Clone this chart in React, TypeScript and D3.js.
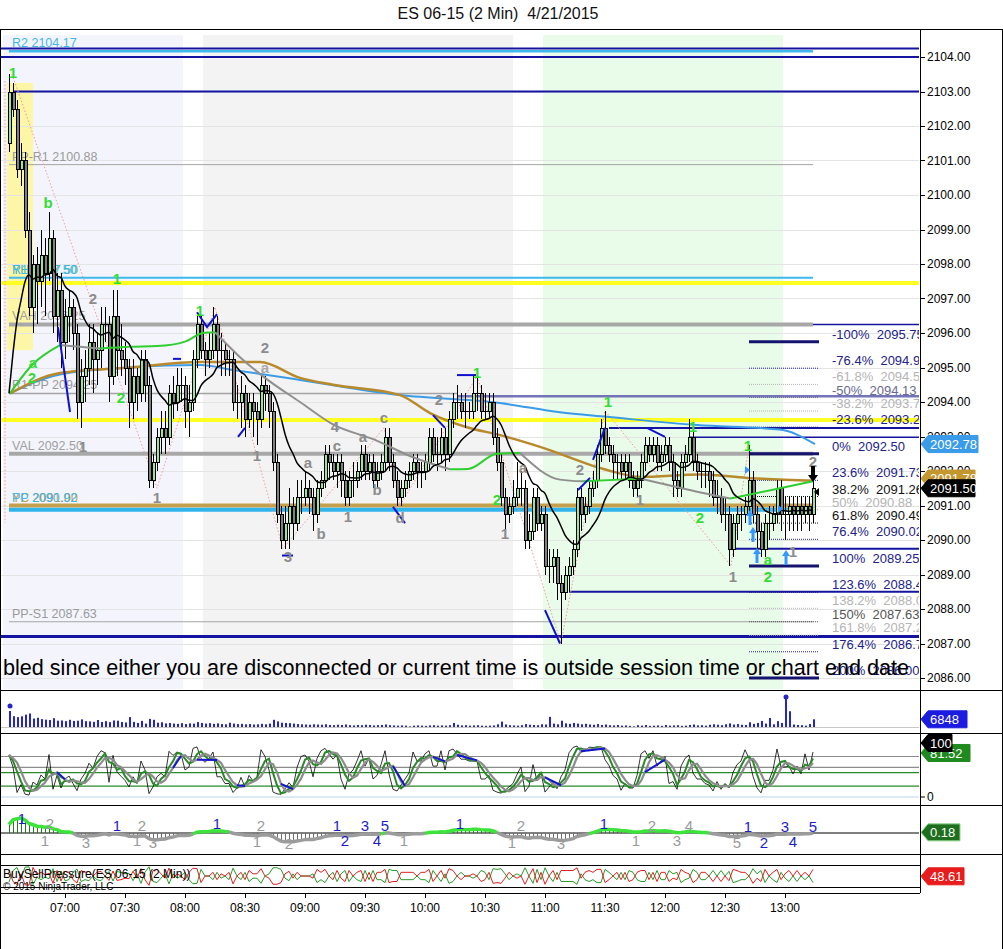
import React from 'react';
import * as d3 from 'd3';

const FONT = 'Arial, "Liberation Sans", Helvetica, sans-serif';
const NAVY = '#1414a0';
const CYAN = '#3fb8ec';
const LEVEL_GRAY = '#a4a4a4';
const UP_FILL = '#98e698';
const DOWN_FILL = '#808080';

// ---- price bars (2 min, first bar closes 06:32) ----
const sessionStart = 392; // minutes after midnight
const barMinutes = 2;
const firstOpen = 2101.5;
const priorValue = 2094.25; // where the carried-over averages start

const closes = [
  2103.00, 2102.50, 2100.75, 2101.00, 2099.00, 2096.75, 2098.00, 2097.50, 2098.25, 2097.75,
  2098.75, 2096.50, 2097.25, 2095.75, 2096.50, 2096.75, 2096.00, 2094.00, 2094.75, 2095.00,
  2095.75, 2095.25, 2095.50, 2096.25, 2096.25, 2094.75, 2096.50, 2095.50, 2095.25, 2095.00,
  2094.00, 2094.75, 2094.25, 2095.25, 2094.50, 2091.75, 2092.25, 2093.00, 2093.25, 2093.00,
  2094.25, 2094.00, 2094.50, 2094.50, 2093.75, 2094.00, 2095.25, 2096.25, 2095.50, 2095.25,
  2095.50, 2096.25, 2095.50, 2095.50, 2095.25, 2095.25, 2094.00, 2094.00, 2094.25, 2093.50,
  2094.00, 2093.75, 2093.50, 2094.50, 2094.25, 2093.75, 2092.25, 2090.75, 2090.00, 2090.50,
  2091.00, 2090.50, 2091.25, 2091.25, 2091.50, 2091.25, 2090.75, 2091.50, 2091.75, 2092.50,
  2092.25, 2092.00, 2092.25, 2091.75, 2091.25, 2091.75, 2091.75, 2092.00, 2092.50, 2092.00,
  2092.25, 2091.75, 2092.00, 2092.25, 2093.00, 2092.25, 2091.75, 2091.25, 2091.50, 2091.75,
  2092.00, 2092.25, 2092.00, 2092.00, 2092.25, 2093.00, 2092.50, 2092.50, 2093.00, 2092.50,
  2093.50, 2094.00, 2094.00, 2093.75, 2093.75, 2093.75, 2094.25, 2094.25, 2093.75, 2093.75,
  2094.00, 2093.00, 2092.25, 2091.25, 2090.75, 2091.00, 2091.25, 2091.50, 2091.50, 2090.00,
  2090.25, 2091.25, 2090.50, 2090.75, 2089.25, 2089.25, 2089.50, 2088.75, 2088.50, 2089.00,
  2089.25, 2089.75, 2091.25, 2090.75, 2091.00, 2091.50, 2091.75, 2092.50, 2093.25, 2092.75,
  2092.50, 2092.25, 2092.25, 2092.00, 2092.25, 2091.75, 2091.50, 2091.75, 2092.25, 2092.75,
  2092.50, 2092.75, 2092.25, 2092.50, 2092.75, 2092.25, 2091.75, 2091.50, 2092.25, 2092.50,
  2093.00, 2092.25, 2092.00, 2092.00, 2092.00, 2091.75, 2091.25, 2091.25, 2090.75, 2090.75,
  2089.75, 2090.50, 2090.75, 2090.75, 2091.00, 2091.75, 2090.75, 2090.25, 2089.75, 2090.50,
  2090.50, 2090.75, 2091.50, 2090.75, 2090.75, 2091.00, 2090.75, 2091.00, 2090.75, 2091.00,
  2090.75, 2091.50,
];

const highs = [
  2103.50, 2103.25, 2102.75, 2101.50, 2101.25, 2099.50, 2098.25, 2098.50, 2099.00, 2098.75,
  2099.50, 2099.00, 2097.75, 2097.75, 2097.00, 2097.25, 2097.00, 2096.25, 2095.25, 2095.50,
  2096.25, 2096.25, 2096.00, 2096.75, 2096.75, 2096.50, 2097.25, 2097.25, 2096.25, 2095.75,
  2095.25, 2095.25, 2095.00, 2095.50, 2095.50, 2094.75, 2092.50, 2093.25, 2093.75, 2093.75,
  2094.50, 2094.75, 2095.00, 2095.00, 2094.75, 2094.50, 2095.50, 2096.50, 2096.50, 2095.75,
  2096.00, 2096.75, 2096.50, 2096.00, 2095.75, 2095.50, 2095.50, 2094.50, 2094.75, 2094.50,
  2094.25, 2094.25, 2094.00, 2094.75, 2094.75, 2094.50, 2094.00, 2092.50, 2091.00, 2091.00,
  2091.50, 2091.25, 2091.75, 2091.75, 2092.00, 2091.75, 2091.50, 2091.75, 2092.00, 2092.75,
  2092.75, 2092.50, 2092.50, 2092.50, 2092.00, 2092.00, 2092.25, 2092.25, 2092.75, 2092.75,
  2092.50, 2092.50, 2092.25, 2092.50, 2093.25, 2093.25, 2092.50, 2092.00, 2091.75, 2092.00,
  2092.25, 2092.50, 2092.50, 2092.25, 2092.50, 2093.25, 2093.25, 2093.00, 2093.25, 2093.25,
  2093.75, 2094.25, 2094.50, 2094.25, 2094.25, 2094.00, 2094.75, 2094.75, 2094.50, 2094.25,
  2094.25, 2094.25, 2093.25, 2092.50, 2091.50, 2091.25, 2091.75, 2092.25, 2092.00, 2091.75,
  2090.75, 2091.50, 2091.50, 2091.00, 2091.00, 2089.75, 2089.75, 2089.75, 2089.00, 2089.25,
  2089.50, 2090.00, 2091.50, 2091.50, 2091.25, 2091.75, 2092.00, 2092.75, 2093.50, 2093.75,
  2093.00, 2092.75, 2092.50, 2092.50, 2092.50, 2092.50, 2092.00, 2092.00, 2092.50, 2093.00,
  2093.00, 2093.00, 2093.00, 2092.75, 2093.00, 2093.00, 2092.50, 2092.00, 2092.50, 2092.75,
  2093.50, 2093.25, 2092.50, 2092.25, 2092.25, 2092.25, 2092.00, 2091.75, 2091.50, 2091.25,
  2091.00, 2090.75, 2091.00, 2091.00, 2091.25, 2092.75, 2092.00, 2091.00, 2090.50, 2090.75,
  2091.00, 2091.00, 2091.75, 2091.75, 2091.25, 2091.25, 2091.25, 2091.25, 2091.25, 2091.25,
  2091.25, 2091.75,
];

const lows = [
  2101.25, 2102.25, 2100.50, 2100.25, 2098.75, 2096.50, 2096.00, 2096.25, 2096.75, 2096.50,
  2097.50, 2096.00, 2095.75, 2095.00, 2095.25, 2095.75, 2095.50, 2093.50, 2093.25, 2094.00,
  2094.50, 2094.25, 2094.50, 2095.00, 2095.75, 2094.00, 2094.50, 2094.75, 2094.75, 2094.50,
  2093.25, 2093.50, 2093.75, 2094.00, 2094.00, 2091.50, 2091.50, 2092.00, 2092.50, 2092.50,
  2092.75, 2093.50, 2093.75, 2094.00, 2093.25, 2093.00, 2093.75, 2095.00, 2095.25, 2094.75,
  2095.00, 2095.25, 2095.00, 2094.75, 2094.75, 2094.75, 2093.75, 2093.50, 2093.25, 2093.00,
  2093.25, 2093.00, 2092.75, 2093.25, 2093.75, 2093.25, 2092.00, 2090.50, 2089.75, 2089.75,
  2089.75, 2090.00, 2090.25, 2090.75, 2091.00, 2090.75, 2090.25, 2090.50, 2091.25, 2091.50,
  2091.75, 2091.75, 2091.50, 2091.25, 2091.00, 2091.00, 2091.25, 2091.50, 2091.75, 2091.75,
  2091.75, 2091.50, 2091.50, 2091.75, 2092.00, 2092.00, 2091.50, 2091.00, 2091.00, 2091.25,
  2091.50, 2091.75, 2091.50, 2091.50, 2091.75, 2092.00, 2092.25, 2092.00, 2092.25, 2092.00,
  2092.25, 2093.25, 2093.50, 2093.50, 2093.25, 2093.50, 2093.50, 2093.75, 2093.50, 2093.50,
  2093.50, 2092.75, 2092.00, 2091.00, 2090.25, 2090.50, 2090.75, 2091.00, 2091.00, 2089.75,
  2089.75, 2090.00, 2090.25, 2090.25, 2089.00, 2088.75, 2088.75, 2088.25, 2087.00, 2088.25,
  2088.50, 2089.00, 2089.50, 2090.25, 2090.50, 2090.75, 2091.25, 2091.50, 2092.25, 2092.50,
  2092.25, 2091.75, 2091.75, 2091.75, 2091.75, 2091.50, 2091.25, 2091.25, 2091.50, 2092.00,
  2092.25, 2092.25, 2092.00, 2092.00, 2092.25, 2092.00, 2091.25, 2091.25, 2091.25, 2092.00,
  2092.25, 2092.00, 2091.75, 2091.50, 2091.50, 2091.25, 2091.00, 2090.75, 2090.50, 2090.25,
  2089.25, 2089.50, 2090.00, 2090.25, 2090.50, 2090.75, 2090.50, 2089.75, 2089.50, 2089.50,
  2090.00, 2090.25, 2090.50, 2090.25, 2090.00, 2090.25, 2090.25, 2090.25, 2090.25, 2090.50,
  2090.25, 2090.50,
];

const volumes = [
  14200, 9600, 8800, 9500, 11000, 12000, 7500, 8200, 7000, 6500,
  6200, 7800, 5600, 5800, 5200, 6400, 5400, 5600, 6800, 5200,
  5000, 4600, 6200, 4400, 5200, 4300, 5800, 5600, 4400, 4000,
  8800, 4500, 3600, 5400, 3000, 7200, 6400, 3800, 4200, 3200,
  3600, 3000, 2800, 3400, 2600, 3200, 3000, 4400, 3600, 3000,
  3400, 2800, 3200, 2600, 2400, 3800, 3000, 2600, 2800, 2400,
  2600, 2200, 2400, 2800, 2400, 3000, 6400, 5000, 3800, 3600,
  3400, 3000, 2600, 2400, 2200, 2000, 2400, 2200, 2000, 2400,
  1800, 1600, 2000, 1800, 2200, 1600, 1400, 1800, 1600, 2000,
  1800, 1400, 1600, 1800, 2200, 1600, 1400, 1200, 1400, 1200,
  600, 1200, 1400, 1200, 1000, 1400, 1600, 1200, 1400, 1200,
  1600, 3600, 2000, 1400, 1600, 1200, 1400, 1600, 1200, 1000,
  1200, 1400, 2400, 4800, 2200, 1600, 1400, 1200, 1600, 2600,
  2000, 1800, 1600, 2400, 2200, 9000, 3000, 2400, 5600, 3200,
  2800, 3600, 3000, 2400, 2800, 2200, 2000, 2600, 1800, 2200,
  1600, 1400, 1800, 1200, 1400, 1000, 600, 1600, 1200, 1800,
  1000, 1200, 1400, 1000, 1800, 1200, 1400, 1600, 1000, 1200,
  1800, 2200, 1400, 1600, 1200, 2000, 2400, 2000, 1600, 2400,
  3200, 2200, 2600, 2000, 1800, 4200, 2800, 3600, 5400, 3000,
  8000, 2400, 5200, 3600, 27000, 14000, 2200, 1800, 1600, 1200,
  2600, 6848,
];

// averages: [bar index, price]
const trendMA = [
  [0.25, 2094.25], [6, 2095.1], [12.75, 2095.65], [17.75, 2095.6], [22.75, 2095.55],
  [30.25, 2095.6], [37, 2095.62], [44, 2095.75], [48.5, 2096.0], [51.5, 2096.02],
  [57.75, 2095.3], [64, 2094.7], [72.75, 2094.0], [81, 2093.35], [91.5, 2092.9],
  [101, 2092.4], [110.25, 2092.05], [114.75, 2092.06], [122, 2092.5], [127.75, 2092.52],
  [137.75, 2091.75], [143.5, 2091.7], [152.75, 2091.75], [157.75, 2091.78], [172, 2091.4],
  [180.25, 2091.2], [192.75, 2091.5], [201, 2091.7],
];
const goldMA = [
  [0.25, 2094.25], [12.75, 2094.84], [30.25, 2095.0], [47.75, 2095.16], [62.75, 2095.16],
  [72.75, 2094.7], [81, 2094.5], [97.75, 2094.2], [105.25, 2093.68], [114.5, 2093.27],
  [122.75, 2093.04], [132.75, 2092.7], [149.5, 2092.03], [157.75, 2091.83], [172.75, 2091.9],
  [184.5, 2091.8], [201, 2091.72],
];
const blueMA = [
  [0.25, 2094.25], [12.75, 2094.8], [30.25, 2095.0], [47.75, 2095.07], [56, 2094.93],
  [72.75, 2094.64], [97.75, 2094.2], [122.75, 2093.97], [137.75, 2093.7], [149.5, 2093.57],
  [172, 2093.33], [192.75, 2093.2], [201.5, 2092.78],
];

const sessionBands = [
  { from: '06:30', to: '08:00', fill: '#f4f5fc' },
  { from: '08:10', to: '10:45', fill: '#f3f3f3' },
  { from: '11:00', to: '13:00', fill: '#e9fbe9' },
];
const openingRange = { from: '06:31', to: '06:44', low: 2095.5, high: 2103.25 };

// horizontal levels; null = panel edge
const levelLines = [
  { price: 2104.25, color: NAVY, width: 2, from: null, to: null },
  { price: 2104.17, color: CYAN, width: 2.5, from: '06:32', to: '13:14' },
  { price: 2104.0, color: NAVY, width: 2, from: null, to: null },
  { price: 2103.0, color: NAVY, width: 2, from: '06:34', to: null },
  { price: 2100.88, color: LEVEL_GRAY, width: 1, from: '06:32', to: '13:14' },
  { price: 2097.6, color: CYAN, width: 2, from: '06:32', to: '13:14' },
  { price: 2097.45, color: '#ffff22', width: 4, from: null, to: null },
  { price: 2096.25, color: '#a8a8a8', width: 4, from: '06:32', to: '13:14' },
  { price: 2096.25, color: NAVY, width: 1.5, from: '13:14', to: null },
  { price: 2094.25, color: LEVEL_GRAY, width: 1.5, from: '06:32', to: '10:16' },
  { price: 2094.17, color: '#7474b8', width: 2.5, from: '10:16', to: null },
  { price: 2093.48, color: '#ffff22', width: 4, from: null, to: null },
  { price: 2093.25, color: NAVY, width: 2, from: '11:32', to: null },
  { price: 2092.98, color: NAVY, width: 1.5, from: '12:12', to: null },
  { price: 2092.5, color: '#a8a8a8', width: 4, from: '06:32', to: '13:14' },
  { price: 2091.0, color: '#c4a04c', width: 4, from: '06:32', to: '13:14' },
  { price: 2090.88, color: '#2fb4ec', width: 4, from: '06:32', to: '13:14' },
  { price: 2089.75, color: NAVY, width: 2, from: '12:35', to: null },
  { price: 2088.5, color: NAVY, width: 2, from: '11:12', to: null },
  { price: 2087.63, color: LEVEL_GRAY, width: 1, from: '06:32', to: '13:14' },
  { price: 2087.2, color: NAVY, width: 3, from: null, to: null },
];

const levelLabels = [
  { text: 'R2 2104.17', price: 2104.17, color: CYAN },
  { text: 'PP-R1 2100.88', price: 2100.88, color: '#9a9a9a' },
  { text: 'YH 2097.50', price: 2097.6, color: '#4fb3a6' },
  { text: 'R1 2097.50', price: 2097.6, color: CYAN },
  { text: 'VAH 2096.25', price: 2096.25, color: '#a0a0a0' },
  { text: 'R1-PP 2094.25', price: 2094.25, color: '#9a9a9a' },
  { text: 'VAL 2092.50', price: 2092.5, color: '#a0a0a0' },
  { text: 'YC 2091.00', price: 2091.0, color: '#c4a04c' },
  { text: 'PP 2090.92', price: 2091.0, color: CYAN },
  { text: 'PP-S1 2087.63', price: 2087.63, color: '#9a9a9a' },
];

// fibonacci tool, drawn between two bar indices
const fibRange = [185, 202.5];
const fibLevels = [
  ['-100%', 2095.75, 'navy', true], ['-76.4%', 2094.98, 'navy', false],
  ['-61.8%', 2094.51, 'light', false], ['-50%', 2094.13, 'mid', false],
  ['-38.2%', 2093.74, 'light', false], ['-23.6%', 2093.27, 'navy', false],
  ['0%', 2092.5, 'navy', true], ['23.6%', 2091.73, 'navy', false],
  ['38.2%', 2091.26, 'black', false], ['50%', 2090.88, 'light', false],
  ['61.8%', 2090.49, 'black', false], ['76.4%', 2090.02, 'navy', false],
  ['100%', 2089.25, 'navy', true], ['123.6%', 2088.48, 'navy', false],
  ['138.2%', 2088.02, 'light', false], ['150%', 2087.63, 'dark', false],
  ['161.8%', 2087.24, 'light', false], ['176.4%', 2086.76, 'navy', false],
  ['200%', 2086.0, 'navy', true],
];
const fibColors = { navy: '#22228a', light: '#b4b4b4', mid: '#6a6a90', black: '#111111', dark: '#555555' };

const zigzag = [
  [0.75, 2103.5], [37, 2091.5], [51.5, 2096.75], [68.5, 2089.75], [93.75, 2093.25],
  [97.75, 2091.0], [117, 2094.75], [138, 2087.0], [149, 2093.75], [180.5, 2089.25], [185, 2092.75],
];
const priorZig = [[-1, 2103.3], [-1, 2090.5]];

const swingMarks = [
  [[12.25, 2096.17], [15.25, 2093.71]],
  [[47, 2096.6], [49.5, 2096.17], [52, 2096.55]],
  [[41, 2095.25], [43, 2095.25]],
  [[57.25, 2092.99], [59, 2093.25]],
  [[68.25, 2089.55], [71, 2089.55]],
  [[96, 2090.96], [99, 2090.49]],
  [[106, 2093.62], [109, 2093.25]],
  [[112, 2094.78], [116.75, 2094.78]],
  [[134, 2087.97], [137.75, 2087.0]],
  [[142.25, 2091.45], [145.25, 2091.8]],
  [[146, 2092.32], [149, 2093.25]],
  [[159.5, 2093.25], [164, 2092.99]],
];

const GREEN_LBL = '#33dd33';
const GRAY_LBL = '#8c8c8c';
const waveLabels = [
  [1, 2103.54, '1', GREEN_LBL], [9.75, 2099.77, 'b', GREEN_LBL], [27, 2097.59, '1', GREEN_LBL],
  [6, 2095.13, 'a', GREEN_LBL], [5.75, 2094.7, '2', GREEN_LBL], [28, 2094.14, '2', GREEN_LBL],
  [47.75, 2096.64, '1', GREEN_LBL], [117, 2094.84, '1', GREEN_LBL], [122, 2091.16, '2', GREEN_LBL],
  [149.75, 2094.0, '1', GREEN_LBL], [171, 2093.28, '1', GREEN_LBL], [172.75, 2090.64, '2', GREEN_LBL],
  [184.75, 2092.75, '1', GREEN_LBL], [189.75, 2089.42, 'a', GREEN_LBL], [189.75, 2088.93, '2', GREEN_LBL],
  [21, 2097.01, '2', GRAY_LBL], [18.5, 2092.7, '1', GRAY_LBL], [37, 2091.22, '1', GRAY_LBL],
  [64, 2095.57, '2', GRAY_LBL], [64, 2095.01, 'a', '#a8a8a8'], [62, 2092.46, '1', GRAY_LBL],
  [74.75, 2092.23, 'a', GRAY_LBL], [81.5, 2093.28, '4', GRAY_LBL], [82, 2092.75, 'c', GRAY_LBL],
  [88.5, 2092.99, 'a', GRAY_LBL], [93.75, 2093.54, 'c', GRAY_LBL], [92, 2091.45, 'b', GRAY_LBL],
  [84.75, 2090.67, '1', GRAY_LBL], [78, 2090.2, 'b', GRAY_LBL], [69.75, 2089.51, '3', GRAY_LBL],
  [97.75, 2090.64, 'd', GRAY_LBL], [107.5, 2094.06, '2', GRAY_LBL], [124, 2090.2, '1', GRAY_LBL],
  [128.5, 2092.09, 'a', GRAY_LBL], [142.75, 2092.03, '2', GRAY_LBL], [157.75, 2091.16, '1', GRAY_LBL],
  [181, 2088.93, '1', GRAY_LBL], [201, 2092.26, '2', GRAY_LBL], [196, 2089.65, '1', GRAY_LBL],
];

const upArrows = [[185.25, 2090.87], [186, 2090.38], [187, 2089.77], [194.25, 2089.71]];
const smallTriangles = [[184.5, 2092.03], [192.75, 2090.9]];
const downArrow = [201, 2091.68];

const priceTags = [
  { value: 2092.78, text: '2092.78', bg: '#3a9ce8', w: 50 },
  { value: 2091.78, text: '2091.78', bg: '#c4962e', w: 47 },
  { value: 2091.5, text: '2091.50', bg: '#000000', w: 47 },
];

const timeLabels = ['07:00', '07:30', '08:00', '08:30', '09:00', '09:30', '10:00', '10:30', '11:00', '11:30', '12:00', '12:30', '13:00'];
const priceTicks = d3.range(2086, 2105, 1);

const oscLevels = [
  { v: 75, color: '#8c8c8c' }, { v: 55, color: '#8c8c8c' },
  { v: 45, color: '#2a8a2a' }, { v: 20, color: '#2a8a2a' }, { v: 0, color: '#bcd6ee' },
];
const oscSwingMarks = [[12, 14], [41, 43], [47, 52], [57, 59], [68, 71], [96, 99], [106, 109], [112, 117], [134, 138], [143, 149], [159, 164]];

const BLUE_W = '#1d1dc8';
const GRAY_W = '#9a9a9a';
const eoLabels = [
  [3.25, 5.0, '1', BLUE_W], [10.25, 3.3, '2', GRAY_W], [9, -2.4, '1', GRAY_W], [19.25, -3.1, '3', GRAY_W],
  [27, 2.6, '1', BLUE_W], [33.25, 2.6, '2', GRAY_W], [32, -2.6, '1', GRAY_W], [36, -3.3, '3', GRAY_W],
  [52, 3.1, '1', BLUE_W], [63, 2.6, '2', GRAY_W], [62, -2.9, '1', GRAY_W], [70, -3.6, '2', GRAY_W],
  [82, 2.4, '1', BLUE_W], [89, 2.4, '3', BLUE_W], [94, 2.6, '5', BLUE_W], [84, -2.6, '2', BLUE_W],
  [92, -2.4, '4', BLUE_W], [98.75, -2.6, '1', GRAY_W], [112.75, 3.1, '1', BLUE_W], [128, 2.6, '2', GRAY_W],
  [125.75, -3.1, '1', GRAY_W], [138, -3.6, '3', GRAY_W], [148.75, 3.3, '1', BLUE_W], [160.75, 2.6, '2', GRAY_W],
  [170, 2.4, '4', GRAY_W], [156.75, -2.4, '1', GRAY_W], [167, -2.6, '3', GRAY_W], [182, -3.3, '5', GRAY_W],
  [184.75, 2.1, '1', BLUE_W], [194, 2.1, '3', BLUE_W], [201, 2.1, '5', BLUE_W], [188.75, -3.1, '2', BLUE_W],
  [196, -2.9, '4', BLUE_W],
];

const panelTags = { volume: 6848, oscFast: 100, oscSlow: 81.52, eo: 0.18, bsp: 48.61 };

// ---- helpers ----
const toMin = (s: string) => { const [h, m] = s.split(':').map(Number); return h * 60 + m; };
const ema = (vals: number[], period: number, seed: number) => {
  const a = 2 / (period + 1);
  let prev = seed;
  return vals.map(v => (prev = prev + a * (v - prev)));
};
const sma = (vals: number[], n: number) =>
  vals.map((_, i) => d3.mean(vals.slice(Math.max(0, i - n + 1), i + 1)) as number);

const xTime = d3.scaleLinear().domain([420, 780]).range([65, 785]);
const barX = (i: number) => xTime(sessionStart + barMinutes * i);
const tX = (s: string | null, edge: number) => (s === null ? edge : xTime(toMin(s)));
const yPrice = d3.scaleLinear().domain([2086, 2104]).range([678, 57]);
const yVol = d3.scaleLinear().domain([0, 24000]).range([727, 700]);
const yOsc = d3.scaleLinear().domain([0, 100]).range([797, 743]);
const yEO = d3.scaleLinear().domain([-6, 6]).range([854, 812]);
const yBSP = d3.scaleLinear().domain([0, 100]).range([887, 865]);

const AXIS_X = 920;
const PLOT_R = 919;

function knotRuns(pts: number[][], upColor: string, downColor: string) {
  const runs: { color: string; pts: [number, number][] }[] = [];
  let cur: any = null;
  for (let k = 1; k < pts.length; k++) {
    const color = pts[k][1] >= pts[k - 1][1] ? upColor : downColor;
    if (!cur || cur.color !== color) {
      cur = { color, pts: [pts[k - 1]] };
      runs.push(cur);
    }
    cur.pts.push(pts[k]);
  }
  return runs;
}

function Tag({ y, text, bg, w, fg = '#fff', border }: any) {
  const h = 17, x0 = AXIS_X + 1, x1 = AXIS_X + 8;
  const pts = `${x0},${y} ${x1},${y - h / 2} ${x1 + w},${y - h / 2} ${x1 + w},${y + h / 2} ${x1},${y + h / 2}`;
  return (
    <g>
      <polygon points={pts} fill={bg} stroke={border || bg} />
      <text x={x1 + 2} y={y} dy="0.36em" fill={fg} fontSize={13}>{text}</text>
    </g>
  );
}

export default function App() {
  const bars = closes.map((c, i) => ({ i, o: i === 0 ? firstOpen : closes[i - 1], c, h: highs[i], l: lows[i] }));

  // fast average, plotted one bar behind so it starts from the carried-over value
  const fast = ema(closes, 14, priorValue);
  const fastPts: [number, number][] = [[0, priorValue], ...fast.slice(0, -1).map((v, i) => [i + 1, v] as [number, number])];

  const ema5 = ema(closes, 5, priorValue);
  const ema35 = ema(closes, 35, priorValue);
  const eo = ema5.map((v, i) => v - ema35[i]);

  const rawK = closes.map((c, i) => {
    const lo = d3.min(lows.slice(Math.max(0, i - 5), i + 1)) as number;
    const hi = d3.max(highs.slice(Math.max(0, i - 5), i + 1)) as number;
    return hi === lo ? 50 : (100 * (c - lo)) / (hi - lo);
  });
  const kSmooth = sma(rawK, 3);
  const dSlow = sma(kSmooth, 3);
  const buyPct = bars.map(b => (100 * (b.c - b.l)) / (b.h - b.l));

  const pLine = d3.line<[number, number]>().x(d => barX(d[0])).y(d => yPrice(d[1]));
  const pCurve = d3.line<[number, number]>().x(d => barX(d[0])).y(d => yPrice(d[1])).curve(d3.curveMonotoneX);
  const seriesLine = (ys: d3.ScaleLinear<number, number>, vals: number[]) =>
    d3.line<number>().x((_, i) => barX(i)).y(v => ys(v))(vals) as string;

  const trendRuns = knotRuns(trendMA, '#2fcf2f', '#8f8f8f');

  // elliott oscillator coloured by sign
  const eoRuns: { color: string; pts: [number, number][] }[] = [];
  eo.forEach((v, i) => {
    const color = v >= 0 ? '#3be33b' : '#9c9c9c';
    const last = eoRuns[eoRuns.length - 1];
    if (!last || last.color !== color) {
      eoRuns.push({ color, pts: i > 0 ? [[i - 1, eo[i - 1]], [i, v]] : [[i, v]] });
    } else last.pts.push([i, v]);
  });

  const fibX0 = barX(fibRange[0]);
  const fibX1 = barX(fibRange[1]);

  return (
    <svg width={1003} height={949} style={{ position: 'absolute', left: 0, top: 0 }} fontFamily={FONT}>
      <defs>
        <clipPath id="mainClip"><rect x={1} y={30} width={PLOT_R - 1} height={659} /></clipPath>
        <clipPath id="volClip"><rect x={1} y={691} width={PLOT_R - 1} height={42} /></clipPath>
        <clipPath id="oscClip"><rect x={1} y={735} width={PLOT_R - 1} height={70} /></clipPath>
      </defs>
      <rect x={0} y={0} width={1003} height={949} fill="#fff" />
      <text x={498} y={19} textAnchor="middle" fontSize={16} fill="#111" style={{ whiteSpace: 'pre' }}>ES 06-15 (2 Min)  4/21/2015</text>

      {/* ===== price panel ===== */}
      <g clipPath="url(#mainClip)">
        {sessionBands.map((b, k) => (
          <rect key={k} x={Math.max(1, xTime(toMin(b.from)) - 2)} y={35}
            width={xTime(toMin(b.to)) - 2 - Math.max(1, xTime(toMin(b.from)) - 2)} height={655} fill={b.fill} />
        ))}
        <rect x={xTime(toMin(openingRange.from))} y={yPrice(openingRange.high)}
          width={xTime(toMin(openingRange.to)) - xTime(toMin(openingRange.from))}
          height={yPrice(openingRange.low) - yPrice(openingRange.high)} fill="#fdf6a6" />
        {priceTicks.map(p => (
          <line key={p} x1={1} x2={PLOT_R} y1={Math.round(yPrice(p)) + 0.5} y2={Math.round(yPrice(p)) + 0.5} stroke="#e4e4e4" />
        ))}
        {levelLines.map((l, k) => (
          <line key={k} x1={tX(l.from, 1)} x2={tX(l.to, PLOT_R)} y1={yPrice(l.price)} y2={yPrice(l.price)}
            stroke={l.color} strokeWidth={l.width} />
        ))}
        {levelLabels.map((l, k) => (
          <text key={k} x={12} y={yPrice(l.price) - 4} fontSize={12.5} fill={l.color}>{l.text}</text>
        ))}
        <path d={pLine(zigzag as any) as string} fill="none" stroke="#f09a9a" strokeWidth={1} strokeDasharray="1.5,2" />
        <path d={pLine(priorZig as any) as string} fill="none" stroke="#f09a9a" strokeWidth={1} strokeDasharray="1.5,2" />

        {/* fib tool */}
        {fibLevels.map(([pct, price, col, thick]: any, k) => (
          <line key={k} x1={fibX0} x2={fibX1} y1={yPrice(price)} y2={yPrice(price)}
            stroke={thick ? '#14146e' : fibColors[col as keyof typeof fibColors]}
            strokeWidth={thick ? 3 : 1} strokeDasharray={thick ? undefined : '1,1'} />
        ))}

        <path d={pCurve(blueMA as any) as string} fill="none" stroke="#3a9ce8" strokeWidth={2} />
        <path d={pCurve(goldMA as any) as string} fill="none" stroke="#b88a2c" strokeWidth={2.5} />

        {/* candles */}
        <g shapeRendering="crispEdges">
          {bars.map(b => {
            const cx = Math.round(barX(b.i));
            const top = Math.round(yPrice(Math.max(b.o, b.c)));
            const bot = Math.round(yPrice(Math.min(b.o, b.c)));
            return (
              <g key={b.i}>
                <line x1={cx + 0.5} x2={cx + 0.5} y1={yPrice(b.h)} y2={yPrice(b.l)} stroke="#000" />
                {bot - top >= 1 ? (
                  <rect x={cx - 1} y={top + 0.5} width={3} height={bot - top} fill={b.c > b.o ? UP_FILL : DOWN_FILL} stroke="#000" />
                ) : (
                  <line x1={cx - 1} x2={cx + 3} y1={top + 0.5} y2={top + 0.5} stroke="#000" />
                )}
              </g>
            );
          })}
        </g>

        {trendRuns.map((r, k) => (
          <path key={k} d={pCurve(r.pts) as string} fill="none" stroke={r.color} strokeWidth={2} />
        ))}
        <path d={pCurve(fastPts) as string} fill="none" stroke="#000" strokeWidth={1.5} />

        {swingMarks.map((m, k) => (
          <path key={k} d={pLine(m as any) as string} fill="none" stroke="#1010d0" strokeWidth={2} />
        ))}
        {waveLabels.map(([i, p, t, c]: any, k) => (
          <text key={k} x={barX(i)} y={yPrice(p)} dy="0.36em" textAnchor="middle" fontSize={15}
            fontWeight="bold" fill={c}>{t}</text>
        ))}
        {upArrows.map(([i, p], k) => {
          const x = barX(i), y = yPrice(p);
          return <path key={k} d={`M${x},${y} l4,6 h-2.5 v9 h-3 v-9 h-2.5 z`} fill="#3399ff" />;
        })}
        {smallTriangles.map(([i, p], k) => {
          const x = barX(i), y = yPrice(p);
          return <path key={k} d={`M${x - 2},${y - 4} l5,4 l-5,4 z`} fill="#3399ff" />;
        })}
        {(() => {
          const x = barX(downArrow[0]), y = yPrice(downArrow[1]);
          return (
            <g>
              <path d={`M${x},${y} l-5,-7 h3 v-9 h4 v9 h3 z`} fill="#000" />
              <path d={`M${x + 1},${y + 10} l5,-4 l0,8 z`} fill="#000" />
            </g>
          );
        })()}

        {fibLevels.map(([pct, price, col]: any, k) => (
          <text key={k} x={fibX1 + 13} y={yPrice(price) - 3} fontSize={13} fill={fibColors[col as keyof typeof fibColors]}
            style={{ whiteSpace: 'pre' }}>{`${pct}  ${price.toFixed(2)}`}</text>
        ))}

        <text x={3} y={675} fontSize={21.5} fill="#000" textLength={906} lengthAdjust="spacingAndGlyphs">bled since either you are disconnected or current time is outside session time or chart end date</text>
      </g>

      {/* ===== right price axis ===== */}
      {priceTicks.map(p => (
        <g key={p}>
          <line x1={AXIS_X} x2={AXIS_X + 5} y1={Math.round(yPrice(p)) + 0.5} y2={Math.round(yPrice(p)) + 0.5} stroke="#000" />
          <text x={AXIS_X + 7} y={yPrice(p)} dy="0.36em" fontSize={12} fill="#000">{p.toFixed(2)}</text>
        </g>
      ))}
      {priceTags.map((t, k) => <Tag key={k} y={yPrice(t.value)} text={t.text} bg={t.bg} w={t.w} />)}

      {/* ===== volume ===== */}
      <g clipPath="url(#volClip)">
        <line x1={1} x2={PLOT_R} y1={727.5} y2={727.5} stroke="#c8c8c8" />
        {volumes.map((v, i) => (
          <rect key={i} x={Math.round(barX(i))} y={yVol(v)} width={2} height={yVol(0) - yVol(v)} fill="#2424d0" />
        ))}
        {volumes.map((v, i) => v > 14100 ? (
          <circle key={i} cx={Math.round(barX(i)) + 1} cy={Math.max(yVol(v) - 5, 697)} r={2.5} fill="#2424d0" />
        ) : null)}
      </g>
      <Tag y={yVol(panelTags.volume)} text={String(panelTags.volume)} bg="#1c1ce0" w={39} />

      {/* ===== stochastic ===== */}
      <g clipPath="url(#oscClip)">
        {oscLevels.map((l, k) => (
          <line key={k} x1={1} x2={PLOT_R} y1={yOsc(l.v)} y2={yOsc(l.v)} stroke={l.color} strokeWidth={1.2} />
        ))}
        <path d={seriesLine(yOsc, rawK)} fill="none" stroke="#000" strokeWidth={0.8} />
        <path d={seriesLine(yOsc, kSmooth)} fill="none" stroke="#2a8a2a" strokeWidth={2} />
        <path d={seriesLine(yOsc, dSlow)} fill="none" stroke="#8c8c8c" strokeWidth={2.2} />
        {oscSwingMarks.map(([a, b], k) => (
          <line key={k} x1={barX(a)} x2={barX(b)} y1={yOsc(dSlow[a])} y2={yOsc(dSlow[b])} stroke="#1515d0" strokeWidth={2} />
        ))}
      </g>
      <line x1={AXIS_X} x2={AXIS_X + 5} y1={yOsc(0)} y2={yOsc(0)} stroke="#000" />
      <text x={AXIS_X + 7} y={yOsc(0)} dy="0.36em" fontSize={12}>0</text>
      <Tag y={yOsc(panelTags.oscSlow)} text={String(panelTags.oscSlow)} bg="#1f8a1f" w={42} />
      <Tag y={yOsc(panelTags.oscFast)} text={String(panelTags.oscFast)} bg="#000" w={24} />

      {/* ===== elliott oscillator ===== */}
      <line x1={1} x2={PLOT_R} y1={yEO(0)} y2={yEO(0)} stroke="#000" />
      {eo.map((v, i) => (
        <line key={i} x1={barX(i) + 0.5} x2={barX(i) + 0.5} y1={yEO(0)} y2={yEO(v)}
          stroke={v >= 0 ? '#237a23' : '#6e6e6e'} strokeWidth={1} />
      ))}
      {eoRuns.map((r, k) => (
        <path key={k} d={d3.line<[number, number]>().x(d => barX(d[0])).y(d => yEO(d[1]))(r.pts) as string}
          fill="none" stroke={r.color} strokeWidth={3.5} />
      ))}
      {eoLabels.map(([i, v, t, c]: any, k) => (
        <text key={k} x={barX(i)} y={yEO(v * 0.85)} dy="0.36em" textAnchor="middle" fontSize={15} fill={c}>{t}</text>
      ))}
      <Tag y={yEO(panelTags.eo)} text={String(panelTags.eo)} bg="#1e6e1e" border="#8ad88a" w={32} />

      {/* ===== buy / sell pressure ===== */}
      <line x1={0} x2={AXIS_X} y1={865.5} y2={865.5} stroke="#000" />
      <line x1={0} x2={AXIS_X} y1={887.5} y2={887.5} stroke="#000" />
      <path d={seriesLine(yBSP, buyPct.map(v => 100 - v))} fill="none" stroke="#2a9a2a" strokeWidth={1} />
      <path d={seriesLine(yBSP, buyPct)} fill="none" stroke="#e02020" strokeWidth={1} />
      <text x={3} y={878} fontSize={12} fill="#000">BuySellPressure(ES 06-15 (2 Min))</text>
      <text x={3} y={890} fontSize={10} fill="#000">© 2015 NinjaTrader, LLC</text>
      <Tag y={yBSP(panelTags.bsp)} text={String(panelTags.bsp)} bg="#e81c1c" w={36} />

      {/* ===== time axis ===== */}
      {timeLabels.map(t => (
        <g key={t}>
          <line x1={xTime(toMin(t)) + 0.5} x2={xTime(toMin(t)) + 0.5} y1={893} y2={898} stroke="#000" />
          <text x={xTime(toMin(t))} y={912} textAnchor="middle" fontSize={12}>{t}</text>
        </g>
      ))}

      {/* ===== frame ===== */}
      <g stroke="#000" strokeWidth={1} shapeRendering="crispEdges">
        <line x1={0.5} x2={0.5} y1={29} y2={949} />
        <line x1={0} x2={1003} y1={29.5} y2={29.5} />
        <line x1={1002.5} x2={1002.5} y1={29} y2={949} />
        <line x1={AXIS_X + 0.5} x2={AXIS_X + 0.5} y1={29} y2={893} />
        <line x1={0} x2={1003} y1={690.5} y2={690.5} />
        <line x1={0} x2={1003} y1={733.5} y2={733.5} />
        <line x1={0} x2={1003} y1={805.5} y2={805.5} />
        <line x1={0} x2={1003} y1={854.5} y2={854.5} />
        <line x1={0} x2={AXIS_X} y1={893.5} y2={893.5} />
      </g>
    </svg>
  );
}
